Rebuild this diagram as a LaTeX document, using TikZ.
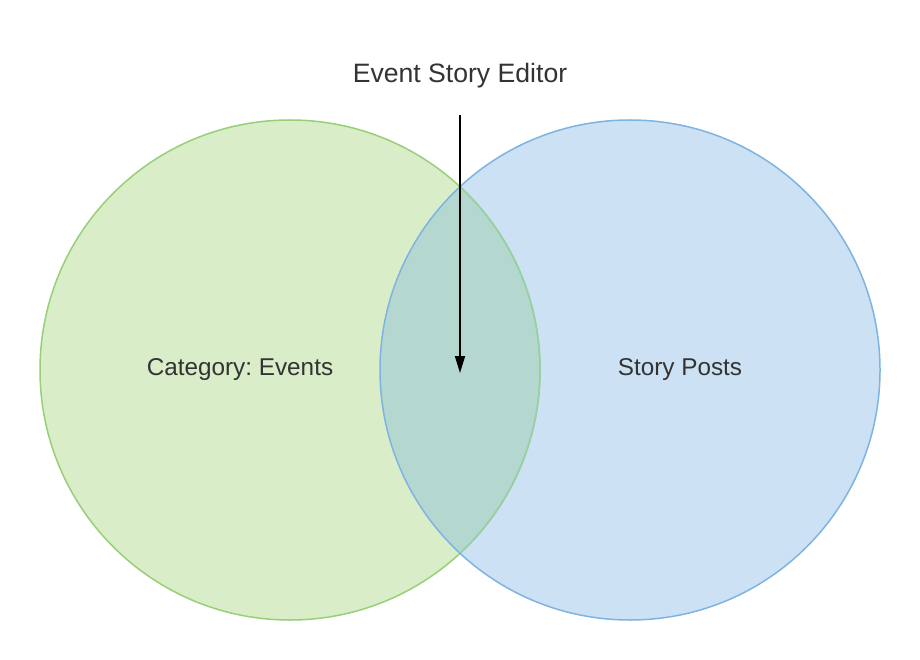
\documentclass[tikz,border=0pt]{standalone}
\usepackage{fontspec}
\setmainfont{Liberation Sans}
\frenchspacing
\usetikzlibrary{arrows.meta}
\definecolor{grfill}{HTML}{D9EDC9}
\definecolor{grline}{HTML}{97D077}
\definecolor{blfill}{HTML}{CCE1F3}
\definecolor{blline}{HTML}{7EB4E2}
\definecolor{mixfill}{HTML}{B4D8D0}
\definecolor{mixline}{HTML}{97CFA6}
\definecolor{txt}{HTML}{333333}
\tikzset{
  lbl/.style={text=txt, font=\fontsize{24.3}{28}\selectfont, inner sep=0pt},
  biglbl/.style={lbl, font=\fontsize{26.6}{30}\selectfont},
  pointer/.style={draw=black, line width=1.6pt, -{Triangle[length=17pt,width=10pt]}}
}
\begin{document}
\begin{tikzpicture}[x=1pt,y=-1pt]
\useasboundingbox (0,0) rectangle (920,660);
\fill[white] (0,0) rectangle (920,660);
% two sets
\fill[grfill] (290,370) circle[radius=250];
\fill[blfill] (630,370) circle[radius=250];
% shared region
\begin{scope}
  \clip (290,370) circle[radius=250];
  \fill[mixfill] (630,370) circle[radius=250];
\end{scope}
% outlines
\draw[grline, line width=1.5pt] (290,370) circle[radius=250];
\begin{scope}
  \clip (630,370) circle[radius=250];
  \draw[mixline, line width=1.5pt] (290,370) circle[radius=250];
\end{scope}
\draw[blline, line width=1.5pt] (630,370) circle[radius=250];
% labels
\node[biglbl] (title) at (460,76) {Event Story Editor};
\node[lbl] (events) at (240,369.5) {Category: Events};
\node[lbl] (posts) at (680,369.5) {Story Posts};
\coordinate (top) at (460,115);
\coordinate (mid) at (460,373);
\draw[pointer] (top) -- (mid);
\end{tikzpicture}
\end{document}
